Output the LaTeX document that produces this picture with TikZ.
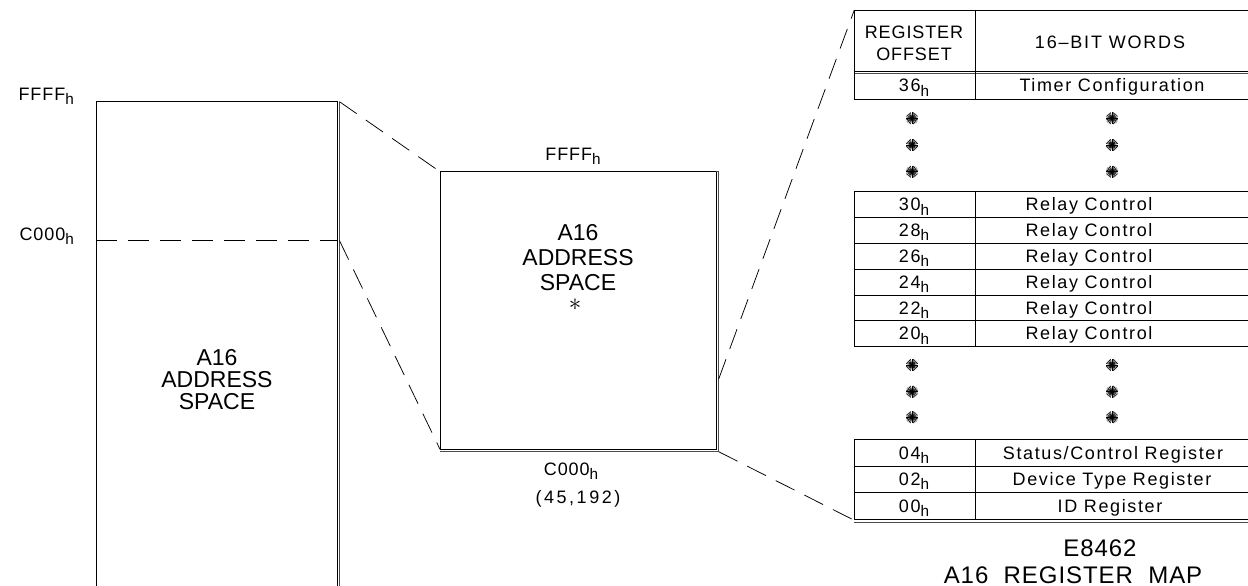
\documentclass[tikz,border=0pt]{standalone}
\usepackage{fontspec}
\setmainfont{Liberation Sans}
\newcommand{\hsub}{\raisebox{-0.45ex}{\scalebox{0.85}{h}}}

\tikzset{
  box line/.style={line width=0.9pt},
  shade line/.style={line width=0.9pt, black!70},
  link/.style={line width=0.75pt, dash pattern=on 21pt off 11pt},
  addr/.style={font=\fontsize{18}{20}\selectfont\addfontfeature{LetterSpace=5}, inner sep=0pt},
  space text/.style={font=\fontsize{23}{26}\selectfont\addfontfeature{LetterSpace=2}, align=center, inner sep=0pt},
  head/.style={font=\fontsize{18}{22}\selectfont\addfontfeature{LetterSpace=5}, align=center, inner sep=0pt},
  cell/.style={font=\fontsize{18}{20}\selectfont\addfontfeature{LetterSpace=9}, inner sep=0pt, anchor=base},
  title/.style={font=\fontsize{24}{28}\selectfont\addfontfeature{LetterSpace=4}, inner sep=0pt, anchor=base},
  pics/burst/.style={code={
    \foreach \a in {0,15,...,165}
      \draw[line width=0.6pt] (\a:6pt) -- (\a+180:6pt);
  }}
}

\begin{document}
\begin{tikzpicture}[x=1pt, y=-1pt]
\useasboundingbox (0,0) rectangle (1248,586);

% Full A16 space
\coordinate (bigtop) at (339.5,101.7);
\coordinate (bigmid) at (339.5,240.7);
\draw[box line] (96,586) |- (337.3,101.7) -- (337.3,586);
\draw[shade line] (339.5,101.7) -- (339.5,586);
\draw[link] (96,240.7) -- (337.3,240.7);
\node[addr, anchor=base east] (ffff) at (74,100) {FFFF\hsub};
\node[addr, anchor=base east] (c000) at (74,240) {C000\hsub};
\node[space text, font=\fontsize{23}{22}\selectfont] (bigspace) at (217,380) {A16\\ADDRESS\\SPACE};

% Zoomed A16 space
\coordinate (midtl) at (440,171.7);
\coordinate (midbl) at (440,449.3);
\coordinate (midr) at (718.7,379);
\coordinate (midbr) at (718.7,451.7);
\draw[box line] (440,171.7) rectangle (716.4,449.3);
\draw[shade line] (716.4,171.7) -- (718.7,171.7) -- (718.7,451.7) -- (440,451.7);
\node[addr, anchor=base] (midffff) at (573,160.7) {FFFF\hsub};
\node[space text, font=\fontsize{23}{25}\selectfont, anchor=base] (midspace) at (578,290.5) {A16\\ADDRESS\\SPACE};
\node[font=\fontsize{30}{30}\selectfont, inner sep=0pt] (star) at (575,305) {$\ast$};
\node[addr, anchor=base] (midc000) at (571,475) {C000\hsub};
\node[addr, anchor=base, font=\fontsize{18}{20}\selectfont\addfontfeature{LetterSpace=14}] (dec) at (578,503) {(45,192)};

% Register table
\coordinate (tabtl) at (854.3,10);
\coordinate (tabbl) at (855,520.7);
\draw[box line] (854,10) -- (1248,10);
\draw[box line] (854,71) -- (1248,71);
\draw[shade line] (854,73.3) -- (1248,73.3);
\draw[box line] (854,99) -- (1248,99);
\draw[box line] (854,10) -- (854,99) (975,10) -- (975,99);
\node[head] (offhead) at (914,43) {REGISTER\\OFFSET};
\node[head, font=\fontsize{18}{22}\selectfont\addfontfeature{LetterSpace=10}] (wordhead) at (1110,42) {16–BIT WORDS};
\node[cell] (off36) at (914,92) {36\hsub};
\node[cell] (word36) at (1112,92) {Timer Configuration};

\foreach \k in {0,...,6}
  \draw[box line] (854,{191.7+25.83*\k}) -- (1248,{191.7+25.83*\k});
\draw[box line] (854,191.7) -- (854,346.7) (975,191.7) -- (975,346.7);
\foreach \off [count=\i] in {30,28,26,24,22,20} {
  \node[cell] (off\off) at (914,{185+25.83*\i}) {\off\hsub};
  \node[cell] (word\off) at (1089,{185+25.83*\i}) {Relay Control};
}

\foreach \k in {0,...,3}
  \draw[box line] (854,{439.3+26.73*\k}) -- (1248,{439.3+26.73*\k});
\draw[shade line] (854,522) -- (1248,522);
\draw[box line] (854,439.3) -- (854,519.5) (975,439.3) -- (975,519.5);
\node[cell] (off04) at (914,459) {04\hsub};
\node[cell] (word04) at (1113,459) {Status/Control Register};
\node[cell] (off02) at (914,485.7) {02\hsub};
\node[cell] (word02) at (1112,485.7) {Device Type Register};
\node[cell] (off00) at (914,512.4) {00\hsub};
\node[cell] (word00) at (1110,512.4) {ID Register};

% Skipped rows
\foreach \y in {118.3,145,171.7,365,391.7,417.3} {
  \pic at (912,\y) {burst};
  \pic at (1112,\y) {burst};
}

\node[title] (mapid) at (1100,556) {E8462};
\node[title] (mapname) at (1073,583) {A16\ \ REGISTER\ \ MAP};

% Connectors
\draw[link] (bigtop) -- (midtl);
\draw[link] (bigmid) -- (midbl);
\draw[link] (midr) -- (tabtl);
\draw[link] (midbr) -- (tabbl);
\end{tikzpicture}
\end{document}
